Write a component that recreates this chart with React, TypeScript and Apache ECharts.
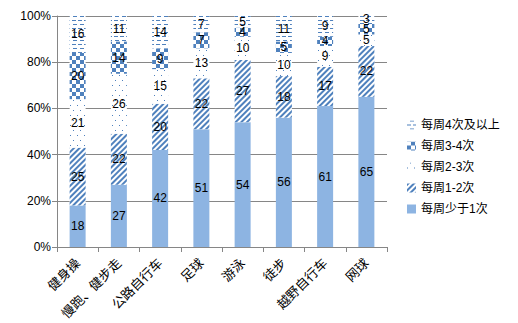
import React, { useEffect, useRef } from "react";
import * as echarts from "echarts";

const categories = ["健身操", "慢跑、健步走", "公路自行车", "足球", "游泳", "徒步", "越野自行车", "网球"];
const seriesNames = ["每周少于1次", "每周1-2次", "每周2-3次", "每周3-4次", "每周4次及以上"];
const lessThan1 = [18, 27, 42, 51, 54, 56, 61, 65];
const oneToTwo = [25, 22, 20, 22, 27, 18, 17, 22];
const twoToThree = [21, 26, 15, 13, 10, 10, 9, 5];
const threeToFour = [20, 14, 9, 7, 4, 5, 4, 5];
const fourPlus = [16, 11, 14, 7, 5, 11, 9, 3];
const yTicks = [0, 20, 40, 60, 80, 100];

const BLUE = "#4F81BD";
const LIGHT = "#8DB4E2";
const FONT = "'Liberation Sans', 'Noto Sans CJK SC', sans-serif";

export default function App() {
  const ref = useRef<HTMLDivElement>(null);
  useEffect(() => {
    const chart = echarts.init(ref.current!, undefined, { renderer: "svg" });
    const values = [lessThan1, oneToTwo, twoToThree, threeToFour, fourPlus];
    const decals: any[] = [
      null,
      { symbol: "rect", symbolSize: 1, color: BLUE, dashArrayX: [1, 0], dashArrayY: [2, 2], rotation: -Math.PI / 4 },
      { symbol: "rect", symbolSize: 1, color: BLUE, dashArrayX: [[1, 6], [0, 3, 1, 3]], dashArrayY: [1, 4] },
      { symbol: "rect", symbolSize: 1, color: BLUE, dashArrayX: [[4, 4], [0, 4, 4, 0]], dashArrayY: [4, 0] },
      { symbol: "rect", symbolSize: 1, color: BLUE, dashArrayX: [[4, 2], [0, 3, 4, 0]], dashArrayY: [1, 3] },
    ];
    const series = values.map((v, i) => ({
      name: seriesNames[i],
      type: "bar",
      stack: "total",
      barWidth: 16,
      data: v,
      itemStyle: i === 0 ? { color: LIGHT } : { color: "#ffffff", decal: decals[i] },
      label: {
        show: true,
        position: "inside",
        color: "#000",
        fontSize: 12,
        fontFamily: FONT,
      },
    }));
    chart.setOption({
      animation: false,
      textStyle: { fontFamily: FONT },
      grid: { left: 57, top: 16, right: 131, bottom: 76, containLabel: false },
      legend: {
        orient: "vertical",
        left: 402,
        top: 114,
        itemWidth: 9,
        itemHeight: 9,
        itemGap: 9,
        data: [...seriesNames].reverse(),
        textStyle: { fontSize: 12, color: "#000", fontFamily: FONT },
        icon: "rect",
      },
      xAxis: {
        type: "category",
        data: categories,
        axisLine: { lineStyle: { color: "#868686" } },
        axisTick: { show: true, length: 5, lineStyle: { color: "#868686" } },
        axisLabel: { rotate: 45, fontSize: 13, color: "#000", interval: 0, margin: 14, fontFamily: FONT },
      },
      yAxis: {
        type: "value",
        min: yTicks[0],
        max: yTicks[yTicks.length - 1],
        interval: 20,
        axisLine: { show: true, lineStyle: { color: "#868686" } },
        axisTick: { show: true, length: 5, lineStyle: { color: "#868686" } },
        splitLine: { lineStyle: { color: "#868686" } },
        axisLabel: { formatter: "{value}%", fontSize: 12, color: "#000", margin: 6, fontFamily: FONT },
      },
      series,
    });
    return () => chart.dispose();
  }, []);
  return <div ref={ref} style={{ position: "fixed", left: 0, top: 0, width: 518, height: 323, background: "#fff" }} />;
}
